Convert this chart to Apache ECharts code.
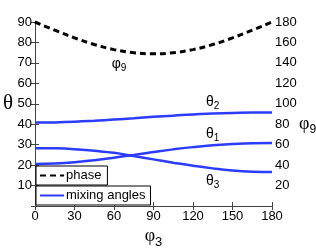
<!DOCTYPE html>
<html><head><meta charset="utf-8">
<script src="https://cdn.jsdelivr.net/npm/echarts@6/dist/echarts.min.js"></script>
<style>html,body{margin:0;padding:0;background:#fff}#c{width:316px;height:249px}</style>
</head><body><div id="c"></div>
<script>
var phi3 = [0,15,30,45,60,75,90,105,120,135,150,165,180];
var theta1 = [20.6,20.8,21.4,22.4,23.6,25.0,26.4,27.7,28.8,29.7,30.3,30.7,30.8];
var theta2 = [40.8,40.9,41.2,41.7,42.3,42.9,43.6,44.2,44.8,45.2,45.5,45.7,45.7];
var theta3 = [28.3,28.2,27.8,27.0,26.0,24.4,22.8,21.2,19.7,18.4,17.4,16.8,16.6];
var phi9 = [180,172,164.5,158,153,150,149,150,153,158,164.5,172,180];

var blue = '#2b3bff';
function pairs(ys){ return phi3.map(function(x,i){ return [x, ys[i]]; }); }
function withLabel(ys, idx, sym, sub, pos, dist, dx){
  var d = pairs(ys);
  d[idx] = {value: d[idx], label:{show:true, position:pos, distance:dist, offset:[dx||0,0],
    formatter:'{a|'+sym+'}{b|'+sub+'}',
    rich:{a:{fontFamily:'Liberation Sans', fontSize:14, color:'#000'},
          b:{fontFamily:'Liberation Sans', fontSize:10, color:'#000', padding:[8,0,0,0]}}}};
  return d;
}
var chart = echarts.init(document.getElementById('c'), null, {renderer:'canvas'});
var axisCol = '#444';
var labelFont = {fontFamily:'Liberation Sans', fontSize:13, color:'#000'};
var legendCommon = {orient:'vertical', borderColor:'#000', borderWidth:1, backgroundColor:'#fff',
  itemWidth:24, itemHeight:10, itemGap:0, itemStyle:{opacity:0},
  textStyle:{fontFamily:'Liberation Sans', fontSize:13, color:'#000', padding:[0,0,0,-3]}};
chart.setOption({
  animation:false,
  grid:{left:35, right:44, top:22, bottom:43, containLabel:false, outerBoundsMode:'none'},
  legend:[
    Object.assign({data:['phase'], left:36, top:166, padding:[3,6,3,3]}, legendCommon),
    Object.assign({data:['mixing angles'], left:36, top:186, padding:[3,5,3,3]}, legendCommon)
  ],
  xAxis:[
    {type:'value', min:0, max:180, interval:30, position:'bottom',
     name:'{a|φ}{b|3}', nameLocation:'middle', nameGap:18, nameMoveOverlap:false,
     nameTextStyle:{rich:{a:{fontFamily:'Liberation Serif', fontSize:18, color:'#000'},
                          b:{fontFamily:'Liberation Sans', fontSize:13, color:'#000', padding:[12,0,0,0]}}},
     axisLine:{show:true, lineStyle:{color:axisCol}},
     axisTick:{show:true, inside:true, length:4, lineStyle:{color:axisCol}},
     axisLabel:Object.assign({margin:4}, labelFont),
     splitLine:{show:false}},
    {type:'value', min:0, max:180, interval:30, position:'top',
     axisLine:{show:true, lineStyle:{color:axisCol}},
     axisTick:{show:true, inside:true, length:4, lineStyle:{color:axisCol}},
     axisLabel:{show:false}, splitLine:{show:false}}
  ],
  yAxis:[
    {type:'value', min:0, max:90, interval:10, position:'left',
     name:'θ', nameLocation:'middle', nameGap:22, nameRotate:0, nameMoveOverlap:false,
     nameTextStyle:{fontFamily:'Liberation Serif', fontSize:21, color:'#000', verticalAlign:'bottom', padding:[0,0,0,0]},
     axisLine:{show:true, lineStyle:{color:axisCol}},
     axisTick:{show:true, inside:true, length:4, lineStyle:{color:axisCol}},
     axisLabel:Object.assign({margin:3, formatter:function(v){return v===0?'':String(v);}}, labelFont),
     splitLine:{show:false}},
    {type:'value', min:0, max:180, interval:20, position:'right',
     name:'{a|φ}{b|9}', nameLocation:'middle', nameGap:27, nameRotate:0, nameMoveOverlap:false,
     nameTextStyle:{padding:[20,0,0,0], rich:{a:{fontFamily:'Liberation Serif', fontSize:18, color:'#000'},
                          b:{fontFamily:'Liberation Sans', fontSize:12, color:'#000', padding:[12,0,0,0]}}},
     axisLine:{show:true, lineStyle:{color:axisCol}},
     axisTick:{show:true, inside:true, length:4, lineStyle:{color:axisCol}},
     axisLabel:Object.assign({margin:3, formatter:function(v){return v===0?'':String(v);}}, labelFont),
     splitLine:{show:false}}
  ],
  series:[
    {name:'phase', type:'line', yAxisIndex:1, smooth:true, symbol:'circle', symbolSize:0, showSymbol:true,
     lineStyle:{color:'#000', width:3, type:[6,4]}, itemStyle:{color:'#000'},
     data:withLabel(phi9, 4, 'φ', '9', 'bottom', 6, 5)},
    {name:'mixing angles', type:'line', yAxisIndex:0, smooth:true, symbol:'circle', symbolSize:0, showSymbol:true,
     lineStyle:{color:blue, width:2.5}, itemStyle:{color:blue},
     data:withLabel(theta1, 9, 'θ', '1', 'top', 2)},
    {name:'mixing angles', type:'line', yAxisIndex:0, smooth:true, symbol:'circle', symbolSize:0, showSymbol:true,
     lineStyle:{color:blue, width:2.5}, itemStyle:{color:blue},
     data:withLabel(theta2, 9, 'θ', '2', 'top', 2)},
    {name:'mixing angles', type:'line', yAxisIndex:0, smooth:true, symbol:'circle', symbolSize:0, showSymbol:true,
     lineStyle:{color:blue, width:2.5}, itemStyle:{color:blue},
     data:withLabel(theta3, 9, 'θ', '3', 'bottom', 4)}
  ]
});
</script></body></html>
